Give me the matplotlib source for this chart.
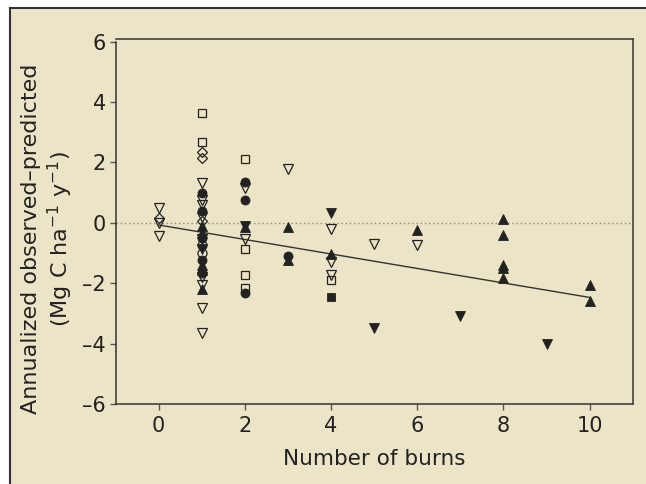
import matplotlib
matplotlib.use("Agg")
import matplotlib.pyplot as plt
from matplotlib.patches import Rectangle
from matplotlib.lines import Line2D

plt.rcParams['font.family'] = ['DejaVu Sans']
plt.rcParams['mathtext.default'] = 'regular'

# ---- data (x = number of burns, y = annualized observed - predicted) ----
open_dtri_x = [0, 0, 0, 1, 1, 1, 1, 1, 1, 1, 1, 1, 2, 2, 3, 4, 4, 4, 5, 6]
open_dtri_y = [0.5, 0.0, -0.45, 1.33, 0.76, 0.58, 0.2, -1.78, -2.05, -2.82, -3.65,
               -0.55, 1.15, -0.52, 1.77, -0.19, -1.29, -1.73, -0.7, -0.73]

open_sq_x = [1, 1, 2, 2, 2, 2, 4]
open_sq_y = [3.63, 2.67, 2.13, -0.87, -1.73, -2.17, -1.9]

open_dia_x = [0, 1, 1, 1]
open_dia_y = [0.15, 2.36, 2.14, 0.05]

open_circ_x = [1, 1]
open_circ_y = [-0.73, -1.0]

fill_circ_x = [1, 1, 1, 1, 1, 2, 2, 2, 3]
fill_circ_y = [1.0, 0.4, -0.5, -1.22, -1.66, 1.36, 0.75, -2.33, -1.1]

fill_utri_x = [1, 1, 1, 1, 1, 2, 3, 3, 4, 6, 8, 8, 8, 8, 8, 10, 10]
fill_utri_y = [-0.12, -0.34, -1.39, -1.55, -2.2, -0.15, -0.15, -1.23, -1.04,
               -0.23, 0.13, -0.4, -1.41, -1.5, -1.83, -2.07, -2.6]

fill_dtri_x = [1, 2, 4, 5, 7, 9]
fill_dtri_y = [-0.85, -0.12, 0.34, -3.48, -3.07, -4.01]

fill_sq_x = [4]
fill_sq_y = [-2.47]

# fitted regression line
fit_intercept = -0.07
fit_slope = -0.24
fit_range = [0, 10]

x_ticks = [0, 2, 4, 6, 8, 10]
y_ticks = [-6, -4, -2, 0, 2, 4, 6]

# ---- figure ----
W, H = 646, 484
fig = plt.figure(figsize=(W / 100, H / 100), dpi=100)
fig.patch.set_facecolor('white')
cream = '#ECE4C6'
ink = '#222222'

# framed cream panel (dark border on left and top)
fig.patches.append(Rectangle((10 / W, 0), 1 - 10 / W, 1 - 8 / H,
                             transform=fig.transFigure, facecolor=cream,
                             edgecolor='none', zorder=-5))
fig.add_artist(Line2D([10 / W, 10 / W], [0, 1 - 8 / H], transform=fig.transFigure,
                      color='#333333', lw=1.5, zorder=-4))
fig.add_artist(Line2D([10 / W, 1], [1 - 8 / H, 1 - 8 / H], transform=fig.transFigure,
                      color='#333333', lw=1.5, zorder=-4))

ax = fig.add_axes([115.5 / W, (H - 404) / H, (632.7 - 115.5) / W, (404 - 38.7) / H])
ax.set_facecolor('none')
ax.set_xlim(-1, 11)
ax.set_ylim(-6, 6.1)

ax.axhline(0, color='#888888', lw=1.0, ls=(0, (1, 2)), zorder=1)
ax.plot(fit_range, [fit_intercept + fit_slope * v for v in fit_range],
        color='#333333', lw=1.0, zorder=2)

kw_open = dict(ls='none', mfc='none', mec=ink, mew=0.9, zorder=3)
kw_fill = dict(ls='none', mfc=ink, mec=ink, mew=0.6, zorder=4)
ax.plot(open_dtri_x, open_dtri_y, marker='v', ms=7.5, **kw_open)
ax.plot(open_sq_x, open_sq_y, marker='s', ms=6, **kw_open)
ax.plot(open_dia_x, open_dia_y, marker='D', ms=5.5, **kw_open)
ax.plot(open_circ_x, open_circ_y, marker='o', ms=6.5, **kw_open)
ax.plot(fill_circ_x, fill_circ_y, marker='o', ms=6.5, **kw_fill)
ax.plot(fill_utri_x, fill_utri_y, marker='^', ms=7, **kw_fill)
ax.plot(fill_dtri_x, fill_dtri_y, marker='v', ms=7, **kw_fill)
ax.plot(fill_sq_x, fill_sq_y, marker='s', ms=6, **kw_fill)

for s in ax.spines.values():
    s.set_color('#333333')
    s.set_linewidth(1.1)
ax.spines['left'].set_bounds(-6, 6)

ax.set_xticks(x_ticks)
ax.set_yticks(y_ticks)
ax.set_yticklabels([str(t).replace('-', '\u2013') for t in y_ticks])
ax.tick_params(direction='out', length=4, width=1, color='#555555',
               labelsize=15, labelcolor=ink, pad=3)
ax.tick_params(axis='x', pad=5)

ax.set_xlabel('Number of burns', fontsize=15.5, color=ink, labelpad=9)
ax.set_ylabel('Annualized observed\u2013predicted\n(Mg C ha$^{-1}$ y$^{-1}$)',
              fontsize=16, color=ink, linespacing=1.2)
ax.yaxis.set_label_coords(-0.079, 0.452)

fig.savefig('out.png', dpi=100, facecolor='white')
